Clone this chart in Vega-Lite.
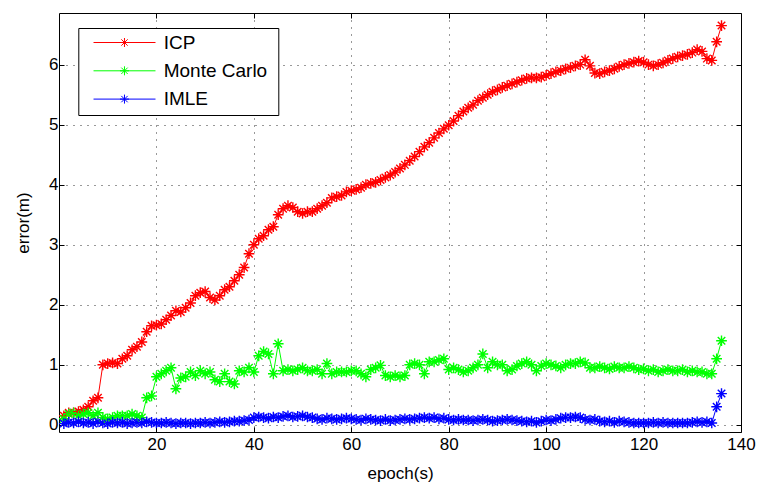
{
  "$schema": "https://vega.github.io/schema/vega-lite/v6.json",
  "width": 682,
  "height": 419,
  "autosize": "none",
  "padding": {"left": 59, "top": 13, "right": 17, "bottom": 56},
  "background": "#ffffff",
  "data": {"values": [
    {"epoch":1,"ICP":0.15,"Monte Carlo":0.1,"IMLE":0.02},
    {"epoch":2,"ICP":0.2,"Monte Carlo":0.18,"IMLE":0.04},
    {"epoch":3,"ICP":0.2,"Monte Carlo":0.2,"IMLE":0.03},
    {"epoch":4,"ICP":0.22,"Monte Carlo":0.15,"IMLE":0.05},
    {"epoch":5,"ICP":0.25,"Monte Carlo":0.18,"IMLE":0.03},
    {"epoch":6,"ICP":0.3,"Monte Carlo":0.2,"IMLE":0.04},
    {"epoch":7,"ICP":0.4,"Monte Carlo":0.15,"IMLE":0.02},
    {"epoch":8,"ICP":0.45,"Monte Carlo":0.2,"IMLE":0.05},
    {"epoch":9,"ICP":1.0,"Monte Carlo":0.12,"IMLE":0.03},
    {"epoch":10,"ICP":1.02,"Monte Carlo":0.1,"IMLE":0.02},
    {"epoch":11,"ICP":1.03,"Monte Carlo":0.12,"IMLE":0.04},
    {"epoch":12,"ICP":1.02,"Monte Carlo":0.15,"IMLE":0.03},
    {"epoch":13,"ICP":1.1,"Monte Carlo":0.15,"IMLE":0.04},
    {"epoch":14,"ICP":1.15,"Monte Carlo":0.15,"IMLE":0.02},
    {"epoch":15,"ICP":1.25,"Monte Carlo":0.18,"IMLE":0.03},
    {"epoch":16,"ICP":1.3,"Monte Carlo":0.15,"IMLE":0.04},
    {"epoch":17,"ICP":1.38,"Monte Carlo":0.12,"IMLE":0.03},
    {"epoch":18,"ICP":1.55,"Monte Carlo":0.45,"IMLE":0.05},
    {"epoch":19,"ICP":1.65,"Monte Carlo":0.48,"IMLE":0.04},
    {"epoch":20,"ICP":1.66,"Monte Carlo":0.8,"IMLE":0.03},
    {"epoch":21,"ICP":1.68,"Monte Carlo":0.85,"IMLE":0.03},
    {"epoch":22,"ICP":1.75,"Monte Carlo":0.9,"IMLE":0.04},
    {"epoch":23,"ICP":1.82,"Monte Carlo":0.95,"IMLE":0.03},
    {"epoch":24,"ICP":1.9,"Monte Carlo":0.6,"IMLE":0.02},
    {"epoch":25,"ICP":1.88,"Monte Carlo":0.78,"IMLE":0.03},
    {"epoch":26,"ICP":1.95,"Monte Carlo":0.8,"IMLE":0.03},
    {"epoch":27,"ICP":2.03,"Monte Carlo":0.88,"IMLE":0.02},
    {"epoch":28,"ICP":2.15,"Monte Carlo":0.82,"IMLE":0.03},
    {"epoch":29,"ICP":2.2,"Monte Carlo":0.9,"IMLE":0.03},
    {"epoch":30,"ICP":2.22,"Monte Carlo":0.85,"IMLE":0.04},
    {"epoch":31,"ICP":2.12,"Monte Carlo":0.88,"IMLE":0.03},
    {"epoch":32,"ICP":2.08,"Monte Carlo":0.75,"IMLE":0.04},
    {"epoch":33,"ICP":2.15,"Monte Carlo":0.72,"IMLE":0.05},
    {"epoch":34,"ICP":2.25,"Monte Carlo":0.85,"IMLE":0.04},
    {"epoch":35,"ICP":2.3,"Monte Carlo":0.72,"IMLE":0.05},
    {"epoch":36,"ICP":2.4,"Monte Carlo":0.68,"IMLE":0.06},
    {"epoch":37,"ICP":2.5,"Monte Carlo":0.9,"IMLE":0.06},
    {"epoch":38,"ICP":2.62,"Monte Carlo":0.88,"IMLE":0.07},
    {"epoch":39,"ICP":2.85,"Monte Carlo":0.95,"IMLE":0.08},
    {"epoch":40,"ICP":3.0,"Monte Carlo":0.88,"IMLE":0.12},
    {"epoch":41,"ICP":3.1,"Monte Carlo":1.15,"IMLE":0.13},
    {"epoch":42,"ICP":3.15,"Monte Carlo":1.22,"IMLE":0.12},
    {"epoch":43,"ICP":3.25,"Monte Carlo":1.18,"IMLE":0.11},
    {"epoch":44,"ICP":3.3,"Monte Carlo":0.85,"IMLE":0.13},
    {"epoch":45,"ICP":3.5,"Monte Carlo":1.35,"IMLE":0.12},
    {"epoch":46,"ICP":3.6,"Monte Carlo":0.9,"IMLE":0.14},
    {"epoch":47,"ICP":3.65,"Monte Carlo":0.92,"IMLE":0.15},
    {"epoch":48,"ICP":3.62,"Monte Carlo":0.9,"IMLE":0.13},
    {"epoch":49,"ICP":3.55,"Monte Carlo":0.92,"IMLE":0.14},
    {"epoch":50,"ICP":3.52,"Monte Carlo":0.95,"IMLE":0.15},
    {"epoch":51,"ICP":3.55,"Monte Carlo":0.9,"IMLE":0.13},
    {"epoch":52,"ICP":3.55,"Monte Carlo":0.9,"IMLE":0.12},
    {"epoch":53,"ICP":3.6,"Monte Carlo":0.92,"IMLE":0.1},
    {"epoch":54,"ICP":3.65,"Monte Carlo":0.85,"IMLE":0.09},
    {"epoch":55,"ICP":3.7,"Monte Carlo":1.02,"IMLE":0.11},
    {"epoch":56,"ICP":3.78,"Monte Carlo":0.85,"IMLE":0.1},
    {"epoch":57,"ICP":3.8,"Monte Carlo":0.88,"IMLE":0.09},
    {"epoch":58,"ICP":3.82,"Monte Carlo":0.88,"IMLE":0.1},
    {"epoch":59,"ICP":3.88,"Monte Carlo":0.88,"IMLE":0.11},
    {"epoch":60,"ICP":3.9,"Monte Carlo":0.9,"IMLE":0.1},
    {"epoch":61,"ICP":3.92,"Monte Carlo":0.9,"IMLE":0.09},
    {"epoch":62,"ICP":3.95,"Monte Carlo":0.85,"IMLE":0.08},
    {"epoch":63,"ICP":4.0,"Monte Carlo":0.8,"IMLE":0.1},
    {"epoch":64,"ICP":4.02,"Monte Carlo":0.92,"IMLE":0.09},
    {"epoch":65,"ICP":4.04,"Monte Carlo":0.95,"IMLE":0.08},
    {"epoch":66,"ICP":4.08,"Monte Carlo":0.99,"IMLE":0.07},
    {"epoch":67,"ICP":4.12,"Monte Carlo":0.82,"IMLE":0.09},
    {"epoch":68,"ICP":4.16,"Monte Carlo":0.8,"IMLE":0.07},
    {"epoch":69,"ICP":4.21,"Monte Carlo":0.82,"IMLE":0.08},
    {"epoch":70,"ICP":4.27,"Monte Carlo":0.8,"IMLE":0.09},
    {"epoch":71,"ICP":4.33,"Monte Carlo":0.82,"IMLE":0.1},
    {"epoch":72,"ICP":4.4,"Monte Carlo":1.0,"IMLE":0.09},
    {"epoch":73,"ICP":4.47,"Monte Carlo":1.02,"IMLE":0.1},
    {"epoch":74,"ICP":4.55,"Monte Carlo":1.0,"IMLE":0.11},
    {"epoch":75,"ICP":4.63,"Monte Carlo":0.85,"IMLE":0.12},
    {"epoch":76,"ICP":4.7,"Monte Carlo":1.05,"IMLE":0.11},
    {"epoch":77,"ICP":4.78,"Monte Carlo":1.05,"IMLE":0.12},
    {"epoch":78,"ICP":4.86,"Monte Carlo":1.08,"IMLE":0.1},
    {"epoch":79,"ICP":4.93,"Monte Carlo":1.1,"IMLE":0.11},
    {"epoch":80,"ICP":4.99,"Monte Carlo":0.92,"IMLE":0.09},
    {"epoch":81,"ICP":5.06,"Monte Carlo":0.95,"IMLE":0.08},
    {"epoch":82,"ICP":5.15,"Monte Carlo":0.92,"IMLE":0.09},
    {"epoch":83,"ICP":5.22,"Monte Carlo":0.88,"IMLE":0.08},
    {"epoch":84,"ICP":5.28,"Monte Carlo":0.9,"IMLE":0.08},
    {"epoch":85,"ICP":5.33,"Monte Carlo":0.95,"IMLE":0.07},
    {"epoch":86,"ICP":5.4,"Monte Carlo":1.0,"IMLE":0.08},
    {"epoch":87,"ICP":5.45,"Monte Carlo":1.18,"IMLE":0.09},
    {"epoch":88,"ICP":5.5,"Monte Carlo":0.95,"IMLE":0.08},
    {"epoch":89,"ICP":5.55,"Monte Carlo":1.05,"IMLE":0.06},
    {"epoch":90,"ICP":5.58,"Monte Carlo":1.0,"IMLE":0.07},
    {"epoch":91,"ICP":5.62,"Monte Carlo":1.0,"IMLE":0.08},
    {"epoch":92,"ICP":5.65,"Monte Carlo":0.9,"IMLE":0.09},
    {"epoch":93,"ICP":5.68,"Monte Carlo":0.92,"IMLE":0.08},
    {"epoch":94,"ICP":5.71,"Monte Carlo":0.98,"IMLE":0.07},
    {"epoch":95,"ICP":5.74,"Monte Carlo":1.02,"IMLE":0.06},
    {"epoch":96,"ICP":5.77,"Monte Carlo":1.05,"IMLE":0.05},
    {"epoch":97,"ICP":5.78,"Monte Carlo":1.0,"IMLE":0.06},
    {"epoch":98,"ICP":5.78,"Monte Carlo":0.9,"IMLE":0.04},
    {"epoch":99,"ICP":5.79,"Monte Carlo":0.98,"IMLE":0.06},
    {"epoch":100,"ICP":5.82,"Monte Carlo":1.02,"IMLE":0.08},
    {"epoch":101,"ICP":5.85,"Monte Carlo":1.0,"IMLE":0.07},
    {"epoch":102,"ICP":5.88,"Monte Carlo":0.98,"IMLE":0.09},
    {"epoch":103,"ICP":5.9,"Monte Carlo":0.95,"IMLE":0.11},
    {"epoch":104,"ICP":5.93,"Monte Carlo":1.0,"IMLE":0.12},
    {"epoch":105,"ICP":5.95,"Monte Carlo":1.02,"IMLE":0.12},
    {"epoch":106,"ICP":5.98,"Monte Carlo":1.02,"IMLE":0.13},
    {"epoch":107,"ICP":6.0,"Monte Carlo":1.05,"IMLE":0.12},
    {"epoch":108,"ICP":6.08,"Monte Carlo":1.03,"IMLE":0.09},
    {"epoch":109,"ICP":5.98,"Monte Carlo":0.95,"IMLE":0.08},
    {"epoch":110,"ICP":5.86,"Monte Carlo":0.95,"IMLE":0.09},
    {"epoch":111,"ICP":5.85,"Monte Carlo":0.97,"IMLE":0.06},
    {"epoch":112,"ICP":5.88,"Monte Carlo":0.95,"IMLE":0.05},
    {"epoch":113,"ICP":5.9,"Monte Carlo":0.93,"IMLE":0.06},
    {"epoch":114,"ICP":5.93,"Monte Carlo":0.97,"IMLE":0.04},
    {"epoch":115,"ICP":5.97,"Monte Carlo":0.95,"IMLE":0.06},
    {"epoch":116,"ICP":6.0,"Monte Carlo":0.95,"IMLE":0.05},
    {"epoch":117,"ICP":6.02,"Monte Carlo":0.97,"IMLE":0.04},
    {"epoch":118,"ICP":6.04,"Monte Carlo":0.95,"IMLE":0.03},
    {"epoch":119,"ICP":6.06,"Monte Carlo":0.92,"IMLE":0.03},
    {"epoch":120,"ICP":6.04,"Monte Carlo":0.93,"IMLE":0.03},
    {"epoch":121,"ICP":6.0,"Monte Carlo":0.9,"IMLE":0.03},
    {"epoch":122,"ICP":5.98,"Monte Carlo":0.92,"IMLE":0.04},
    {"epoch":123,"ICP":6.0,"Monte Carlo":0.88,"IMLE":0.03},
    {"epoch":124,"ICP":6.03,"Monte Carlo":0.9,"IMLE":0.04},
    {"epoch":125,"ICP":6.07,"Monte Carlo":0.92,"IMLE":0.03},
    {"epoch":126,"ICP":6.1,"Monte Carlo":0.9,"IMLE":0.03},
    {"epoch":127,"ICP":6.13,"Monte Carlo":0.9,"IMLE":0.03},
    {"epoch":128,"ICP":6.15,"Monte Carlo":0.92,"IMLE":0.03},
    {"epoch":129,"ICP":6.17,"Monte Carlo":0.88,"IMLE":0.03},
    {"epoch":130,"ICP":6.2,"Monte Carlo":0.9,"IMLE":0.04},
    {"epoch":131,"ICP":6.25,"Monte Carlo":0.88,"IMLE":0.05},
    {"epoch":132,"ICP":6.22,"Monte Carlo":0.88,"IMLE":0.04},
    {"epoch":133,"ICP":6.1,"Monte Carlo":0.85,"IMLE":0.05},
    {"epoch":134,"ICP":6.07,"Monte Carlo":0.85,"IMLE":0.03},
    {"epoch":135,"ICP":6.38,"Monte Carlo":1.1,"IMLE":0.3},
    {"epoch":136,"ICP":6.65,"Monte Carlo":1.4,"IMLE":0.52}
  ]},
  "transform": [{"fold": ["ICP", "Monte Carlo", "IMLE"], "as": ["method", "error"]}],
  "layer": [
    {
      "mark": {"type": "line", "strokeWidth": 1, "clip": true,
        "point": {"shape": "M-1,0L1,0M0,-1L0,1M-0.7,-0.7L0.7,0.7M-0.7,0.7L0.7,-0.7", "filled": false, "size": 115, "strokeWidth": 1.4}},
      "encoding": {
        "x": {"field": "epoch", "type": "quantitative",
          "scale": {"domain": [0, 140], "nice": false, "zero": false},
          "axis": {"values": [20, 40, 60, 80, 100, 120, 140], "title": "epoch(s)", "titleX": 341, "titleY": 46, "titleBaseline": "alphabetic", "labelPadding": 9, "labelFlush": false, "grid": true, "tickSize": -5}},
        "y": {"field": "error", "type": "quantitative",
          "scale": {"domain": [-0.12, 6.86], "nice": false, "zero": false},
          "axis": {"values": [0, 1, 2, 3, 4, 5, 6], "title": "error(m)", "titleX": -31, "titleY": 209.5, "titleAngle": 270, "titleBaseline": "alphabetic", "labelPadding": 6, "labelFlush": false, "grid": true, "tickSize": -5}},
        "color": {"field": "method", "type": "nominal",
          "scale": {"domain": ["ICP", "Monte Carlo", "IMLE"], "range": ["#ff0000", "#00ff00", "#0000ff"]},
          "legend": {"title": null, "orient": "none", "legendX": 19.3, "legendY": 15,
            "symbolType": "M0.12,0L10.45,0M4.53,0L6.03,0M5.28,-0.75L5.28,0.75M4.75,-0.53L5.81,0.53M4.75,0.53L5.81,-0.53M29.67,0",
            "symbolSize": 144, "symbolStrokeWidth": 1, "labelFontSize": 19, "labelFont": "Liberation Sans", "labelColor": "#000",
            "labelOffset": 61.4, "padding": 5, "strokeColor": "#000", "fillColor": "#fff", "rowPadding": 8.3}}
      }
    },
    {
      "mark": {"type": "point", "opacity": 0},
      "encoding": {
        "x": {"field": "epoch", "type": "quantitative",
          "axis": {"orient": "top", "values": [20, 40, 60, 80, 100, 120], "labels": false, "title": null, "grid": false, "tickSize": -5}},
        "y": {"field": "error", "type": "quantitative",
          "axis": {"orient": "right", "values": [0, 1, 2, 3, 4, 5, 6], "labels": false, "title": null, "grid": false, "tickSize": -5}}
      }
    }
  ],
  "resolve": {"axis": {"x": "independent", "y": "independent"}},
  "config": {
    "view": {"stroke": "#000", "strokeWidth": 1},
    "font": "Liberation Sans",
    "axis": {"labelFont": "Liberation Sans", "labelFontSize": 17, "labelColor": "#000",
      "titleFont": "Liberation Sans", "titleFontSize": 17, "titleFontWeight": "normal", "titleColor": "#000",
      "domain": false, "tickColor": "#000", "gridColor": "#000", "gridDash": [1, 6], "gridOpacity": 0.8, "gridWidth": 1}
  }
}
